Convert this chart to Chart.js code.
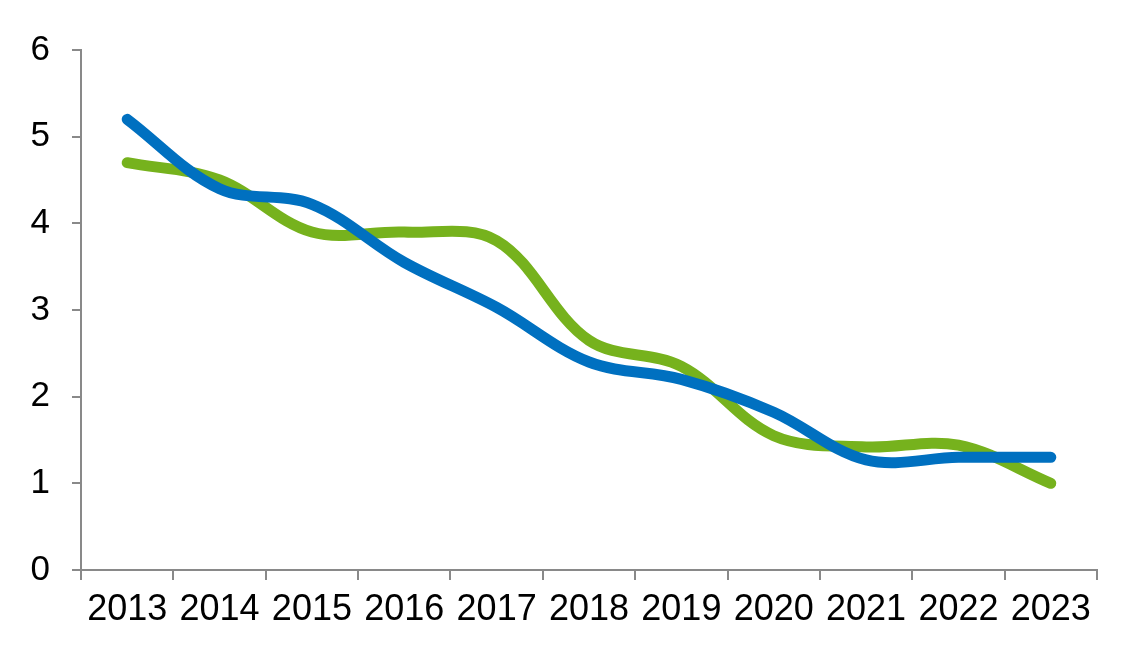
<!DOCTYPE html>
<html>
<head>
<meta charset="utf-8">
<script src="https://cdn.jsdelivr.net/npm/chart.js@4/dist/chart.umd.min.js"></script>
<style>
  html, body { margin: 0; padding: 0; background: #fff; }
  #wrap { width: 1147px; height: 662px; }
</style>
</head>
<body>
<div id="wrap"><canvas id="myChart"></canvas></div>
<script>
// chart data
const years = ["2013", "2014", "2015", "2016", "2017", "2018", "2019", "2020", "2021", "2022", "2023"];
const greenValues = [4.7, 4.5, 3.9, 3.9, 3.8, 2.65, 2.35, 1.55, 1.42, 1.44, 1.0];
const blueValues = [5.2, 4.4, 4.22, 3.55, 3.03, 2.4, 2.2, 1.82, 1.27, 1.3, 1.3];
const yTicks = [0, 1, 2, 3, 4, 5, 6];

const axisColor = "#898989";
const fontFamily = "'Liberation Sans', Arial, sans-serif";

// first dataset is drawn on top, so blue goes first
new Chart(document.getElementById("myChart"), {
  type: "line",
  data: {
    labels: years,
    datasets: [
      {
        data: blueValues,
        borderColor: "#0070C0",
        borderWidth: 11,
        borderCapStyle: "round",
        tension: 0.35,
        pointRadius: 0,
        fill: false
      },
      {
        data: greenValues,
        borderColor: "#76B21D",
        borderWidth: 11,
        borderCapStyle: "round",
        tension: 0.35,
        pointRadius: 0,
        fill: false
      }
    ]
  },
  options: {
    responsive: true,
    maintainAspectRatio: false,
    animation: false,
    layout: { padding: { top: 50, right: 50, left: 0, bottom: 0 } },
    plugins: {
      legend: { display: false },
      tooltip: { enabled: false }
    },
    scales: {
      x: {
        offset: true,
        grid: {
          offset: true,
          drawOnChartArea: false,
          drawTicks: true,
          tickLength: 10,
          color: axisColor,
          lineWidth: 2
        },
        border: { display: true, color: axisColor, width: 2 },
        ticks: {
          color: "#000",
          font: { family: fontFamily, size: 36 },
          padding: 8,
          maxRotation: 0,
          autoSkip: false
        },
        afterFit: (scale) => { scale.height = 92; }
      },
      y: {
        min: 0,
        max: 6,
        afterBuildTicks: (scale) => { scale.ticks = yTicks.map(v => ({ value: v })); },
        grid: {
          drawOnChartArea: false,
          drawTicks: true,
          tickLength: 9,
          color: axisColor,
          lineWidth: 2
        },
        border: { display: true, color: axisColor, width: 2 },
        ticks: {
          color: "#000",
          font: { family: fontFamily, size: 35 },
          padding: 22
        },
        afterFit: (scale) => { scale.width = 81; }
      }
    }
  }
});
</script>
</body>
</html>
